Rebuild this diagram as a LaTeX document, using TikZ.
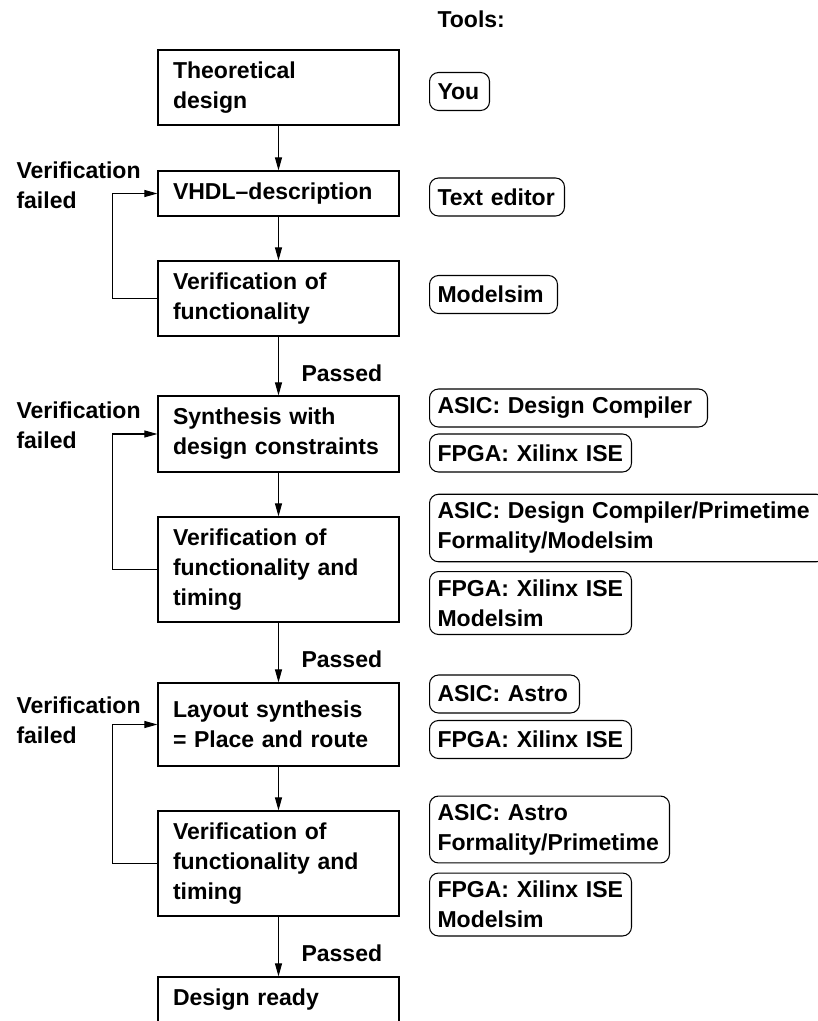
\documentclass[tikz,border=0pt]{standalone}
\usepackage{fontspec}
\setmainfont{Liberation Sans}
\usetikzlibrary{arrows.meta}

\tikzset{
  stage/.style={draw, line width=0.7pt, text width=4.22cm, inner xsep=0.3cm, inner ysep=0pt, align=left, minimum height=#1},
  stage/.default=1.5cm,
  toolbox/.style={draw, line width=0.6pt, rounded corners=0.18cm, anchor=west, text width=#1, inner xsep=0.16cm, inner ysep=0.16cm, minimum height=0.76cm, align=left},
  lbl/.style={anchor=west, inner sep=0pt, align=left},
}

\begin{document}
\begin{tikzpicture}[x=0.02cm, y=-0.02cm, line width=0.6pt,
  font=\fontsize{13.1}{17.1}\selectfont\bfseries,
  >={Triangle[length=0.26cm,width=0.14cm]}]

\clip (0,0) rectangle (818,1021);

% Design flow
  \node[stage=1.5cm]  (theory)  at (278.5,87.5)  {Theoretical\\design};
  \node[stage=0.9cm]  (vhdl)    at (278.5,193.5) {VHDL--description};
  \node[stage=1.5cm]  (verfunc) at (278.5,298.5) {Verification of\\functionality};
  \node[stage=1.52cm] (synth)   at (278.5,434)   {Synthesis with\\design constraints};
  \node[stage=2.1cm]  (vertim)  at (278.5,569.5) {Verification of\\functionality and\\timing};
  \node[stage=1.66cm] (layout)  at (278.5,724.5) {Layout synthesis\\= Place and route};
  \node[stage=2.1cm]  (verlay)  at (278.5,863.5) {Verification of\\functionality and\\timing};
  \node[stage=0.92cm] (ready)   at (278.5,1000)  {Design ready};

% Arrows
  \draw[->] (theory) -- (vhdl);
  \draw[->] (vhdl) -- (verfunc);
  \draw[->] (verfunc) -- node[lbl, pos=0.62, xshift=0.45cm] (pass1) {Passed} (synth);
  \draw[->] (synth) -- (vertim);
  \draw[->] (vertim) -- node[lbl, pos=0.62, xshift=0.45cm] (pass2) {Passed} (layout);
  \draw[->] (layout) -- (verlay);
  \draw[->] (verlay) -- node[lbl, pos=0.62, xshift=0.45cm] (pass3) {Passed} (ready);

% Feedback
  \draw[->] (verfunc.west) -- ++(-45,0) |- (vhdl.west);
  \draw[->] (vertim.west) -- ++(-45,0) |- (synth.west);
  \draw[->] (verlay.west) -- ++(-45,0) |- (layout.west);

  \node[lbl] (fail1) at (16,185)   {Verification\\failed};
  \node[lbl] (fail2) at (16,425.5) {Verification\\failed};
  \node[lbl] (fail3) at (16,720)   {Verification\\failed};

% Tools
  \node[lbl] (tools) at (437,19) {Tools:};
  \node[toolbox=0.88cm] (you)    at (429,91.5)  {You};
  \node[toolbox=2.38cm] (editor) at (429,197)   {Text editor};
  \node[toolbox=2.24cm] (msim)   at (429,294.5) {Modelsim};
  \node[toolbox=5.24cm] (asic1)  at (429,408)   {ASIC: Design Compiler};
  \node[toolbox=3.72cm] (fpga1)  at (429,453)   {FPGA: Xilinx ISE};
  \node[toolbox=7.6cm]  (asic2)  at (429,528)   {ASIC: Design Compiler/Primetime\\Formality/Modelsim};
  \node[toolbox=3.72cm] (fpga2)  at (429,603)   {FPGA: Xilinx ISE\\Modelsim};
  \node[toolbox=2.68cm] (asic3)  at (429,694)   {ASIC: Astro};
  \node[toolbox=3.72cm] (fpga3)  at (429,739.5) {FPGA: Xilinx ISE};
  \node[toolbox=4.48cm] (asic4)  at (429,829.5) {ASIC: Astro\\Formality/Primetime};
  \node[toolbox=3.72cm] (fpga4)  at (429,904.5) {FPGA: Xilinx ISE\\Modelsim};

\end{tikzpicture}
\end{document}
